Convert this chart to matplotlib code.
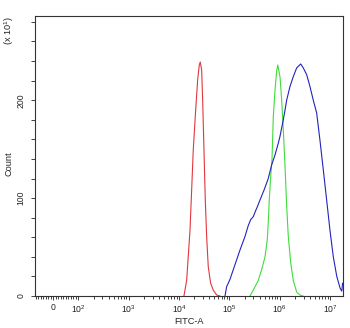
import numpy as np
import matplotlib
matplotlib.use("Agg")
import matplotlib.pyplot as plt
from matplotlib.ticker import FixedLocator, NullFormatter

plt.rcParams['font.family'] = ['Liberation Sans', 'DejaVu Sans']
plt.rcParams['mathtext.fontset'] = 'custom'
plt.rcParams['mathtext.rm'] = 'Liberation Sans'
plt.rcParams['mathtext.it'] = 'Liberation Sans:italic'

# ---- data (FITC-A intensity, count / 10) ----
red_fitc = [1.25e4, 1.416e4, 1.648e4, 1.778e4, 1.914e4, 2.138e4, 2.344e4, 2.523e4,
            2.636e4, 2.812e4, 2.944e4, 3.126e4, 3.319e4, 3.540e4, 3.802e4, 4.246e4,
            4.786e4, 5.598e4, 6.501e4]
red_count = [0, 16, 67, 108, 149, 190, 221, 236, 239, 231, 200, 149, 98, 60, 30, 13, 6, 1, 0]

green_fitc = [2.570e5, 2.985e5, 3.758e5, 4.385e5, 5.105e5, 5.662e5, 5.929e5, 6.209e5,
              6.622e5, 7.031e5, 7.464e5, 8.072e5, 8.710e5, 9.162e5, 1.014e6, 1.096e6,
              1.180e6, 1.279e6, 1.380e6, 1.483e6, 1.656e6, 1.862e6, 2.178e6, 2.535e6,
              2.904e6]
green_count = [0, 6, 16, 27, 40, 57, 75, 98, 122, 139, 183, 210, 230, 236, 224, 200,
               170, 132, 91, 61, 34, 16, 4, 1, 0]

blue_fitc = [8.185e4, 8.831e4, 1.028e5, 1.197e5, 1.396e5, 1.626e5, 2.051e5, 2.377e5,
             2.649e5, 2.985e5, 3.381e5, 3.589e5, 4.055e5, 4.875e5, 5.929e5, 6.934e5,
             8.072e5, 9.376e5, 1.014e6, 1.180e6, 1.279e6, 1.377e6, 1.603e6, 1.862e6,
             2.178e6, 2.618e6, 2.944e6, 3.443e6, 3.999e6, 4.656e6, 5.433e6, 6.324e6,
             7.362e6, 8.590e6, 1.0e7, 1.164e7, 1.365e7, 1.589e7, 1.718e7, 1.778e7]
blue_count = [0, 9.5, 17, 27, 37, 47, 61, 72, 78, 81, 88, 91, 98, 108, 120, 134, 144,
              156, 163, 180, 190, 200, 214, 224, 233, 237, 233, 226, 214, 200, 187,
              159, 129, 98, 67, 40, 20, 8, 5, 13]

x_major = [0, 1e2, 1e3, 1e4, 1e5, 1e6, 1e7]
x_major_labels = ['0', r'$\mathregular{10^{2}}$', r'$\mathregular{10^{3}}$',
                  r'$\mathregular{10^{4}}$', r'$\mathregular{10^{5}}$',
                  r'$\mathregular{10^{6}}$', r'$\mathregular{10^{7}}$']
y_major = [0, 100, 200]
y_major_labels = ['0', '100', '200']

# ---- figure ----
fig = plt.figure(figsize=(3.5, 3.28), dpi=100)
ax = fig.add_axes([34.7 / 350, 1 - 296 / 328, (342.7 - 34.7) / 350, (296 - 15.7) / 328])

ax.plot(red_fitc, red_count, color='#e0383c', lw=0.8)
ax.plot(green_fitc, green_count, color='#3fdc3a', lw=0.8)
ax.plot(blue_fitc, blue_count, color='#2323c0', lw=0.8)

ax.set_xscale('symlog', linthresh=100, linscale=0.45, base=10)
ax.set_xlim(-74, 1.79e7)
ax.set_ylim(0, 286.3)

minor_x = [v for v in range(-70, 100, 10) if v != 0]
for e in range(2, 7):
    minor_x += [k * 10 ** e for k in range(2, 10)]
ax.set_xticks(x_major)
ax.set_xticklabels(x_major_labels)
ax.xaxis.set_minor_locator(FixedLocator(minor_x))
ax.xaxis.set_minor_formatter(NullFormatter())

ax.set_yticks(y_major)
ax.set_yticklabels(y_major_labels, rotation=90, va='center')
ax.yaxis.set_minor_locator(FixedLocator([v for v in range(20, 290, 20) if v not in y_major]))

ax.tick_params(axis='both', which='major', direction='out', length=2.9, width=0.6,
               labelsize=6.2, colors='#222222', pad=2.2)
ax.tick_params(axis='x', which='minor', direction='out', length=2.2, width=0.6,
               colors='#222222')
ax.tick_params(axis='y', which='minor', direction='out', length=2.9, width=0.6,
               colors='#222222')
ax.tick_params(axis='y', which='major', pad=3.5)
for s in ax.spines.values():
    s.set_linewidth(0.8)
    s.set_color('#333333')

fig.text((34.7 + 342.7) / 2 / 350, 1 - 321 / 328, 'FITC-A', ha='center', va='center',
         fontsize=6.6, color='#222222')
fig.text(9.5 / 350, 1 - 164 / 328, 'Count', rotation=90, ha='center', va='center',
         fontsize=6.6, color='#222222')
fig.text(9.5 / 350, 1 - 31 / 328, r'(x $\mathregular{10^{1}}$)', rotation=90, ha='center',
         va='center', fontsize=6.6, color='#222222')

fig.savefig('out.png', dpi=100)
